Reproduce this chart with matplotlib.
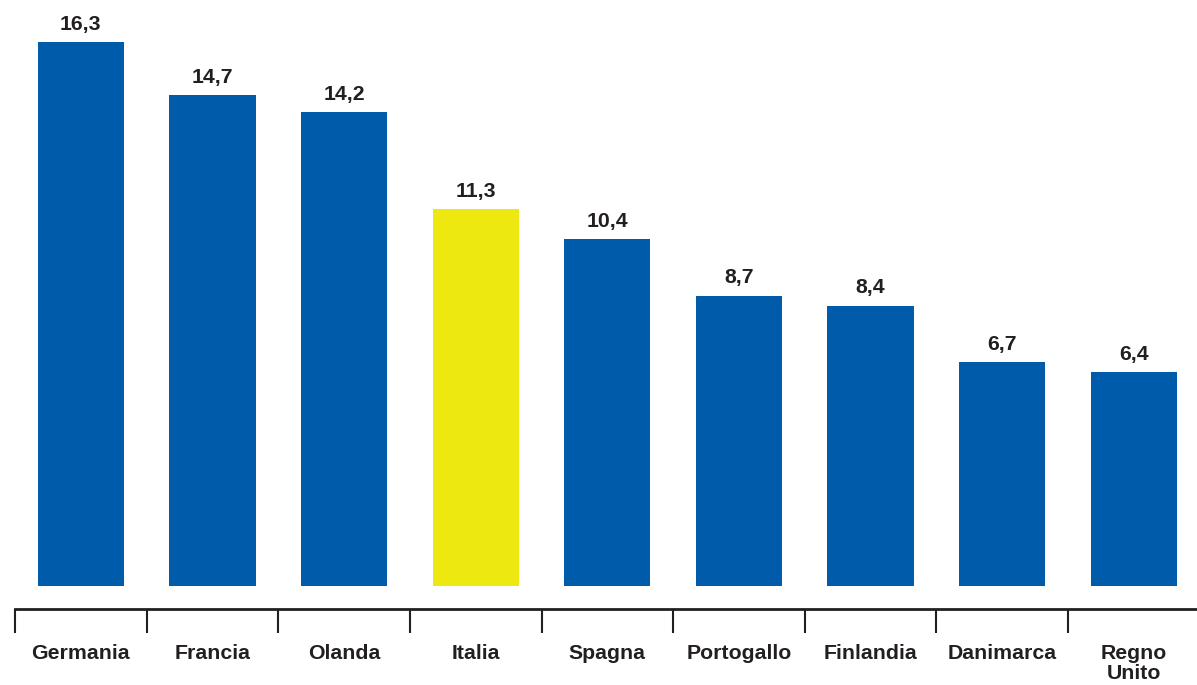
import numpy as np
import matplotlib
matplotlib.use("Agg")
import matplotlib.pyplot as plt

paesi = ["Germania", "Francia", "Olanda", "Italia", "Spagna",
         "Portogallo", "Finlandia", "Danimarca", "Regno\nUnito"]
valori = [16.3, 14.7, 14.2, 11.3, 10.4, 8.7, 8.4, 6.7, 6.4]
evidenziato = "Italia"

blu = "#005baa"
giallo = "#eee811"
testo = "#231f20"

plt.rcParams['font.family'] = ['Liberation Sans', 'DejaVu Sans']

fig = plt.figure(figsize=(11.97, 6.85), dpi=100)
ax = fig.add_axes([15 / 1197, 76 / 685, 1 - 15 / 1197, 609 / 685])

x = np.arange(len(paesi))
colori = [giallo if p == evidenziato else blu for p in paesi]
bars = ax.bar(x, valori, width=0.655, color=colori)

# etichette valori con virgola decimale
ax.bar_label(bars, labels=[("%.1f" % v).replace(".", ",") for v in valori],
             padding=6, fontsize=15.3, fontweight='bold', color=testo)

ax.set_xlim(-0.5, 8.48)
ax.set_ylim(-0.69, 17.56)

for s in ["top", "right", "left"]:
    ax.spines[s].set_visible(False)
ax.spines["bottom"].set_linewidth(2)
ax.spines["bottom"].set_color(testo)
ax.set_yticks([])

# separatori tra categorie (tick maggiori) e nomi al centro (tick minori)
ax.set_xticks(x - 0.5)
ax.set_xticklabels([])
ax.tick_params(axis='x', which='major', direction='out', length=17.5,
               width=1.5, color=testo)
ax.set_xticks(x, minor=True)
ax.set_xticklabels(paesi, minor=True, fontsize=15.3, fontweight='bold',
                   color=testo, linespacing=1.1)
ax.tick_params(axis='x', which='minor', length=0, pad=25)

fig.savefig("out.png", dpi=100)
